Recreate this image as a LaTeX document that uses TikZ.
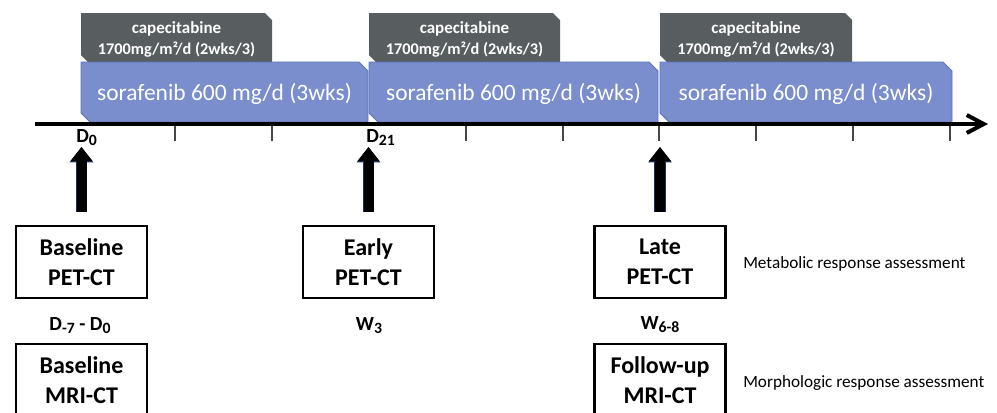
\documentclass[tikz,border=0pt]{standalone}
\usepackage{fontspec}
\setmainfont{Carlito}
\usetikzlibrary{arrows.meta}
\definecolor{sorablue}{RGB}{122,141,204}
\definecolor{soraedge}{RGB}{92,115,188}
\definecolor{capegrey}{RGB}{88,93,96}
\definecolor{arrownavy}{RGB}{30,48,95}
\definecolor{tickgrey}{RGB}{70,70,70}
% lowered index used in the day labels
\newcommand{\daysub}[1]{\raisebox{-2.8pt}{\fontsize{11.8}{12}\selectfont #1}}
\begin{document}
\begin{tikzpicture}[x=0.75pt,y=-0.75pt,
  sorabar/.style={fill=sorablue,draw=soraedge,line width=0.6pt},
  capebar/.style={fill=capegrey},
  capetext/.style={text=white,font=\fontsize{12.75}{14}\selectfont\bfseries,anchor=base,inner sep=0pt},
  dosetext/.style={capetext,font=\fontsize{12.2}{14}\selectfont\bfseries},
  soratext/.style={text=white,font=\fontsize{17.6}{20}\selectfont,anchor=base,inner sep=0pt},
  daylabel/.style={font=\fontsize{15}{17}\selectfont\bfseries,anchor=base,inner sep=0pt},
  sidelabel/.style={font=\fontsize{12.9}{14}\selectfont,anchor=base west,inner sep=0pt},
  exambox/.style={draw,line width=1.9pt,minimum width=98.3pt,minimum height=54pt,
    inner sep=0pt,align=center,font=\fontsize{18}{22.5}\selectfont\bfseries},
  axisline/.style={line width=3pt,-{Straight Barb[length=12.75pt,width=13.5pt]}},
  tickmark/.style={draw=tickgrey,line width=1.1pt},
  bigarrow/.style={line width=7.5pt,draw=black,
    -{Triangle[width=15.75pt,length=10.5pt]},
    preaction={draw=arrownavy,line width=8.6pt,-{Triangle[width=17.2pt,length=11.6pt]}}}
]
\useasboundingbox (0,0) rectangle (997,412);
\clip (0,0) rectangle (997,412);

% three treatment cycles: capecitabine on top of sorafenib
\foreach \L/\R/\C/\i in {81/368/272/1,369/658/560/2,660/952/852/3}{
  \fill[capebar] (\L,13) -- (\C-7,13) -- (\C,20) -- (\C,62) -- (\L+7,62) -- (\L,55) -- cycle;
  \filldraw[sorabar] (\L,62) -- (\R-9,62) -- (\R,71) -- (\R,122) -- (\L+9,122) -- (\L,113) -- cycle;
  \node[capetext] (capeA\i) at ({(\L+\C)/2},33) {capecitabine};
  \node[dosetext] (capeB\i) at ({(\L+\C)/2},54) {1700mg/m²/d (2wks/3)};
  \node[soratext] (sora\i) at ({(\L+\R)/2},100) {sorafenib 600 mg/d (3wks)};
}

% time axis
\coordinate (axstart) at (35,124);
\coordinate (axend) at (988,124);
\draw[axisline] (axstart) -- (axend);
\foreach \x in {175,272,466,563,659,756,853,950}
  \draw[tickmark] (\x,126) -- (\x,141);

\node[daylabel,anchor=base west] (d0) at (76,142) {D\daysub{0}};
\node[daylabel,anchor=base west] (d21) at (366,142) {D\daysub{21}};

% imaging time points
\node[exambox] (basepet) at (81.5,262) {Baseline\\PET-CT};
\node[exambox] (earlypet) at (368.5,262) {Early\\PET-CT};
\node[exambox] (latepet) at (660,262) {Late\\PET-CT};
\node[exambox] (basemri) at (81.5,380) {Baseline\\MRI-CT};
\node[exambox] (followmri) at (660,380) {Follow-up\\MRI-CT};

\node[daylabel] (win0) at (80,330) {D\daysub{-7} - D\daysub{0}};
\node[daylabel] (win3) at (369,330) {W\daysub{3}};
\node[daylabel] (win68) at (660,329) {W\daysub{6-8}};

\node[sidelabel] (metab) at (743,268) {Metabolic response assessment};
\node[sidelabel] (morph) at (743,387) {Morphologic response assessment};

% arrows pointing to the axis
\coordinate (tip0) at (81.5,147);
\coordinate (tip21) at (368.5,147);
\coordinate (tiplate) at (660,147);
\draw[bigarrow,shorten <=9.5pt] (basepet.north) -- (tip0);
\draw[bigarrow,shorten <=9.5pt] (earlypet.north) -- (tip21);
\draw[bigarrow,shorten <=9.5pt] (latepet.north) -- (tiplate);
\end{tikzpicture}
\end{document}
